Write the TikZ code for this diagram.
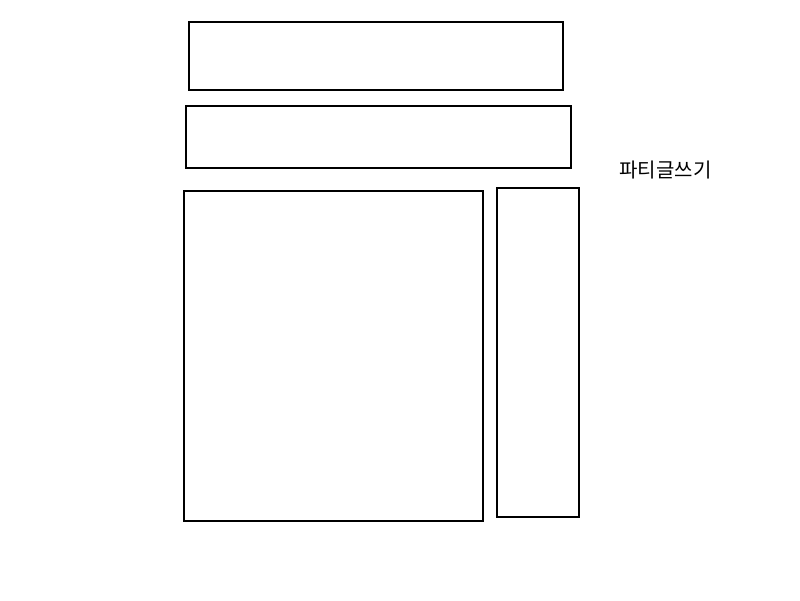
\documentclass[tikz,border=0pt]{standalone}
\usepackage{fontspec}
\newfontfamily\krfont{Noto Sans CJK KR}
\begin{document}
\begin{tikzpicture}[x=1pt,y=-1pt,
  panel/.style={draw=black,line width=2pt,fill=none,inner sep=0pt},
  lbl/.style={font=\krfont\fontsize{20}{24}\selectfont,inner sep=0pt}]
\useasboundingbox (0,0) rectangle (800,600);
\node[panel,minimum width=374pt,minimum height=68pt] (b1) at (376,56) {};
\node[panel,minimum width=385pt,minimum height=62pt] (b2) at (378.5,137) {};
\node[panel,minimum width=299pt,minimum height=330pt] (b3) at (333.5,356) {};
\node[panel,minimum width=82pt,minimum height=329pt] (b4) at (538,352.5) {};
\node[lbl] (t) at (665.5,170.5) {파티글쓰기};
\end{tikzpicture}
\end{document}
